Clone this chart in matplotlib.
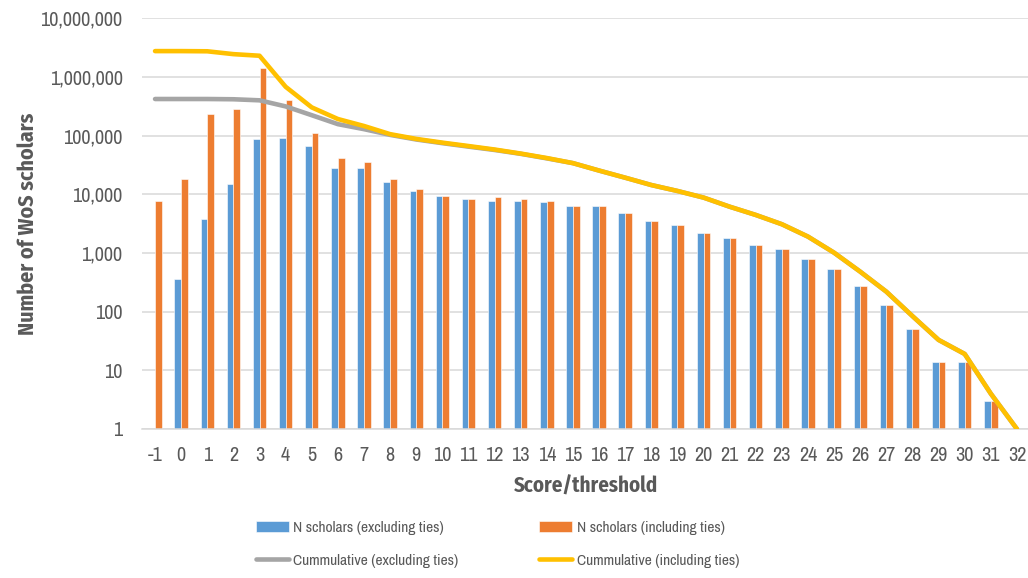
import numpy as np
import matplotlib
matplotlib.use("Agg")
from matplotlib import pyplot as plt
from matplotlib.ticker import FixedLocator, FuncFormatter, NullLocator

plt.rcParams['font.family'] = ['Archivo Narrow', 'Liberation Sans Narrow', 'Liberation Sans', 'DejaVu Sans']
BOLD_FONT = ['Fira Sans Condensed', 'Barlow Semi Condensed', 'Liberation Sans', 'DejaVu Sans']

# score/threshold categories
scores = list(range(-1, 33))

# N scholars (excluding ties), 0 = no bar
n_excl = [0, 357, 3750, 15100, 87000, 92000, 66500, 27700, 27700, 16300,
          11500, 9500, 8300, 7800, 7800, 7300, 6300, 6300, 4860, 3510,
          3030, 2160, 1780, 1350, 1190, 795, 527, 273, 130, 50,
          14, 14, 3, 1]
# N scholars (including ties)
n_incl = [7800, 18500, 234000, 288000, 1440000, 405000, 113000, 41000, 36000, 18500,
          12300, 9500, 8300, 8900, 8300, 7800, 6300, 6300, 4860, 3510,
          3030, 2160, 1780, 1350, 1190, 795, 527, 273, 130, 50,
          14, 14, 3, 1]
# cumulative curves
cum_excl = [421000, 421000, 421000, 417000, 400000, 315000, 223000, 157000, 129000, 103000,
            86000, 74500, 65000, 57000, 49000, 41000, 34000, 25400, 19200, 14400,
            11400, 8800, 6150, 4450, 3090, 1900, 1010, 480, 219, 84,
            33, 19, 4, 1]
cum_incl = [2760000, 2760000, 2740000, 2450000, 2300000, 680000, 303000, 192000, 146000, 106000,
            88000, 76000, 66500, 58000, 49500, 41500, 34000, 25400, 19200, 14400,
            11400, 8800, 6150, 4450, 3090, 1900, 1010, 480, 219, 84,
            33, 19, 4, 1]

legend_labels = ["N scholars (excluding ties)", "N scholars (including ties)",
                 "Cummulative (excluding ties)", "Cummulative (including ties)"]

BLUE = "#5B9BD5"
ORANGE = "#ED7D31"
GRAY = "#A5A5A5"
YELLOW = "#FFC000"
TXT = "#595959"
GRID = "#D9D9D9"

fig = plt.figure(figsize=(10.28, 5.78), dpi=100)
ax = fig.add_axes([142 / 1028, 1 - 429 / 578, 888 / 1028, (429 - 18.3) / 578])

x = np.arange(len(scores))
w = 0.257
b_excl = [v if v > 0 else np.nan for v in n_excl]
bars1 = ax.bar(x - w / 2, b_excl, w, color=BLUE, edgecolor="white", linewidth=0.4, zorder=2)
bars2 = ax.bar(x + w / 2, n_incl, w, color=ORANGE, edgecolor="white", linewidth=0.4, zorder=2)
ln1, = ax.plot(x, cum_excl, color=GRAY, lw=3.3, solid_capstyle="round", zorder=3)
ln2, = ax.plot(x, cum_incl, color=YELLOW, lw=3.3, solid_capstyle="round", zorder=4)

ax.set_yscale("log")
ax.set_ylim(1, 1e7)
ax.set_xlim(-0.5, len(scores) - 0.5)
ax.yaxis.set_major_locator(FixedLocator([10 ** k for k in range(8)]))
ax.yaxis.set_minor_locator(NullLocator())
ax.yaxis.set_major_formatter(FuncFormatter(lambda v, p: f"{int(round(v)):,}"))
ax.set_xticks(x)
ax.set_xticklabels([str(s) for s in scores])

ax.grid(axis="y", color=GRID, lw=1.1, zorder=0)
ax.set_axisbelow(True)
for s in ["top", "right", "left"]:
    ax.spines[s].set_visible(False)
ax.spines["bottom"].set_color(GRID)
ax.spines["bottom"].set_linewidth(1.1)
ax.tick_params(axis="both", length=0, colors=TXT, labelsize=14.5)
ax.tick_params(axis="x", pad=12)
ax.tick_params(axis="y", pad=14)

ax.set_xlabel("Score/threshold", fontsize=15, fontweight="bold", color=TXT, labelpad=8,
              family=BOLD_FONT)
ax.set_ylabel("Number of WoS scholars", fontsize=15.8, fontweight="bold", color=TXT,
              family=BOLD_FONT)
ax.yaxis.set_label_coords(-0.117, 0.5)

# ncol=2 fills column by column
fig.legend([bars1, ln1, bars2, ln2],
           [legend_labels[0], legend_labels[2], legend_labels[1], legend_labels[3]],
           ncol=2, loc="center", bbox_to_anchor=(0.484, 0.058), frameon=False,
           fontsize=11.2, labelcolor=TXT, columnspacing=5.2, handlelength=2.1,
           handletextpad=0.3, labelspacing=1.2)

fig.savefig("out.png", dpi=100)
